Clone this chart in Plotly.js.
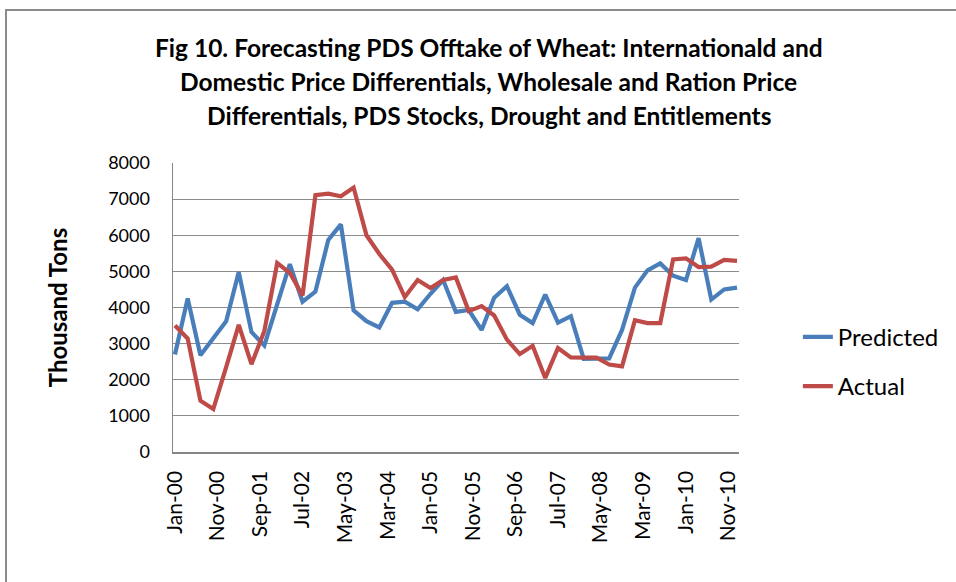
<!DOCTYPE html>
<html>
<head>
<meta charset="utf-8">
<script src="https://cdn.plot.ly/plotly-3.0.1.min.js"></script>
<style>
  html, body { margin: 0; padding: 0; background: #ffffff; }
  #wrap { position: relative; width: 956px; height: 582px; overflow: hidden; }
  #chart { position: absolute; left: 0; top: 0; width: 956px; height: 582px; }
  #frame { position: absolute; left: 5px; top: 9px; width: 960px; height: 600px;
           border-left: 2px solid #8c8c8c; border-top: 2px solid #8c8c8c; pointer-events: none; }
</style>
</head>
<body>
<div id="wrap">
  <div id="chart"></div>
  <div id="frame"></div>
</div>
<script>
// Quarterly observation dates
const dates = [
  "2000-01-01","2000-04-01","2000-07-01","2000-10-01",
  "2001-01-01","2001-04-01","2001-07-01","2001-10-01",
  "2002-01-01","2002-04-01","2002-07-01","2002-10-01",
  "2003-01-01","2003-04-01","2003-07-01","2003-10-01",
  "2004-01-01","2004-04-01","2004-07-01","2004-10-01",
  "2005-01-01","2005-04-01","2005-07-01","2005-10-01",
  "2006-01-01","2006-04-01","2006-07-01","2006-10-01",
  "2007-01-01","2007-04-01","2007-07-01","2007-10-01",
  "2008-01-01","2008-04-01","2008-07-01","2008-10-01",
  "2009-01-01","2009-04-01","2009-07-01","2009-10-01",
  "2010-01-01","2010-04-01","2010-07-01","2010-10-01",
  "2011-01-01"
];

// Thousand tons
const predicted = [2700,4250,2680,3150,3620,4980,3320,2950,4080,5200,
                   4160,4440,5870,6300,3920,3620,3450,4130,4160,3950,
                   4380,4760,3880,3930,3380,4270,4590,3800,3570,4360,
                   3580,3760,2580,2590,2590,3380,4550,5030,5220,4880,
                   4760,5920,4220,4500,4550];

const actual = [3500,3140,1420,1190,2350,3520,2430,3350,5230,4960,
                4330,7110,7150,7080,7320,6000,5480,5050,4290,4760,
                4540,4760,4830,3900,4040,3780,3110,2710,2940,2050,
                2880,2620,2610,2610,2420,2370,3650,3570,3570,5330,
                5360,5120,5130,5320,5290];

// Axis tick labels (every 10 months)
const tickDates = ["2000-01-01","2000-11-01","2001-09-01","2002-07-01","2003-05-01",
                   "2004-03-01","2005-01-01","2005-11-01","2006-09-01","2007-07-01",
                   "2008-05-01","2009-03-01","2010-01-01","2010-11-01"];
const tickLabels = ["Jan-00","Nov-00","Sep-01","Jul-02","May-03","Mar-04","Jan-05",
                    "Nov-05","Sep-06","Jul-07","May-08","Mar-09","Jan-10","Nov-10"];

const titleLines = [
  "Fig 10. Forecasting PDS Offtake of Wheat: Internationald and",
  "Domestic Price Differentials, Wholesale and Ration Price",
  "Differentials, PDS Stocks, Drought and Entitlements"
];

const FONT = "Lato, 'Open Sans', sans-serif";

const traces = [
  { x: dates, y: predicted, name: "Predicted", type: "scatter", mode: "lines",
    legendgroup: "p",
    line: { color: "#4A7EBB", width: 4.2 } },
  { x: dates, y: actual, name: "Actual", type: "scatter", mode: "lines",
    legendgroup: "a",
    line: { color: "#BE4B48", width: 4.2 } }
];

const titleY = [47, 81, 115];
const plotTop = 162.7, plotBottom = 451.7;
const annotations = titleLines.map((t, i) => ({
  text: "<b>" + t + "</b>",
  xref: "paper", yref: "paper",
  x: 0.5583, y: (plotBottom - titleY[i]) / (plotBottom - plotTop),
  xanchor: "center", yanchor: "middle",
  showarrow: false,
  font: { family: FONT, size: 24.5, color: "#000000" }
}));

const layout = {
  width: 956, height: 582,
  margin: { l: 173, r: 217, t: 162.7, b: 130.3, autoexpand: false },
  paper_bgcolor: "#ffffff",
  plot_bgcolor: "#ffffff",
  font: { family: FONT, color: "#000000" },
  showlegend: true,
  legend: {
    x: 1.104, y: 0.475, xanchor: "left", yanchor: "top",
    font: { family: FONT, size: 24, color: "#000000" },
    tracegroupgap: 15,
    bgcolor: "rgba(0,0,0,0)"
  },
  xaxis: {
    type: "date",
    range: ["1999-12-18", "2011-01-15"],
    tickvals: tickDates,
    ticktext: tickLabels,
    tickangle: -90,
    tickfont: { family: FONT, size: 21, color: "#000000" },
    ticks: "",
    ticklabelstandoff: 9,
    showgrid: false,
    showline: true, linecolor: "#868686", linewidth: 1.5,
    zeroline: false,
    fixedrange: true
  },
  yaxis: {
    range: [0, 8000],
    tickvals: [0,1000,2000,3000,4000,5000,6000,7000,8000],
    ticktext: ["0","1000","2000","3000","4000","5000","6000","7000","8000"],
    tickfont: { family: FONT, size: 18, color: "#000000" },
    ticks: "",
    ticklabelstandoff: 18,
    showgrid: true, gridcolor: "#8c8c8c", gridwidth: 1,
    showline: true, linecolor: "#868686", linewidth: 1.5,
    zeroline: false,
    title: { text: "<b>Thousand Tons</b>", standoff: 33,
             font: { family: FONT, size: 24, color: "#000000" } },
    automargin: false,
    fixedrange: true
  },
  annotations: annotations
};

Plotly.newPlot("chart", traces, layout, { staticPlot: true, displayModeBar: false });
</script>
</body>
</html>
